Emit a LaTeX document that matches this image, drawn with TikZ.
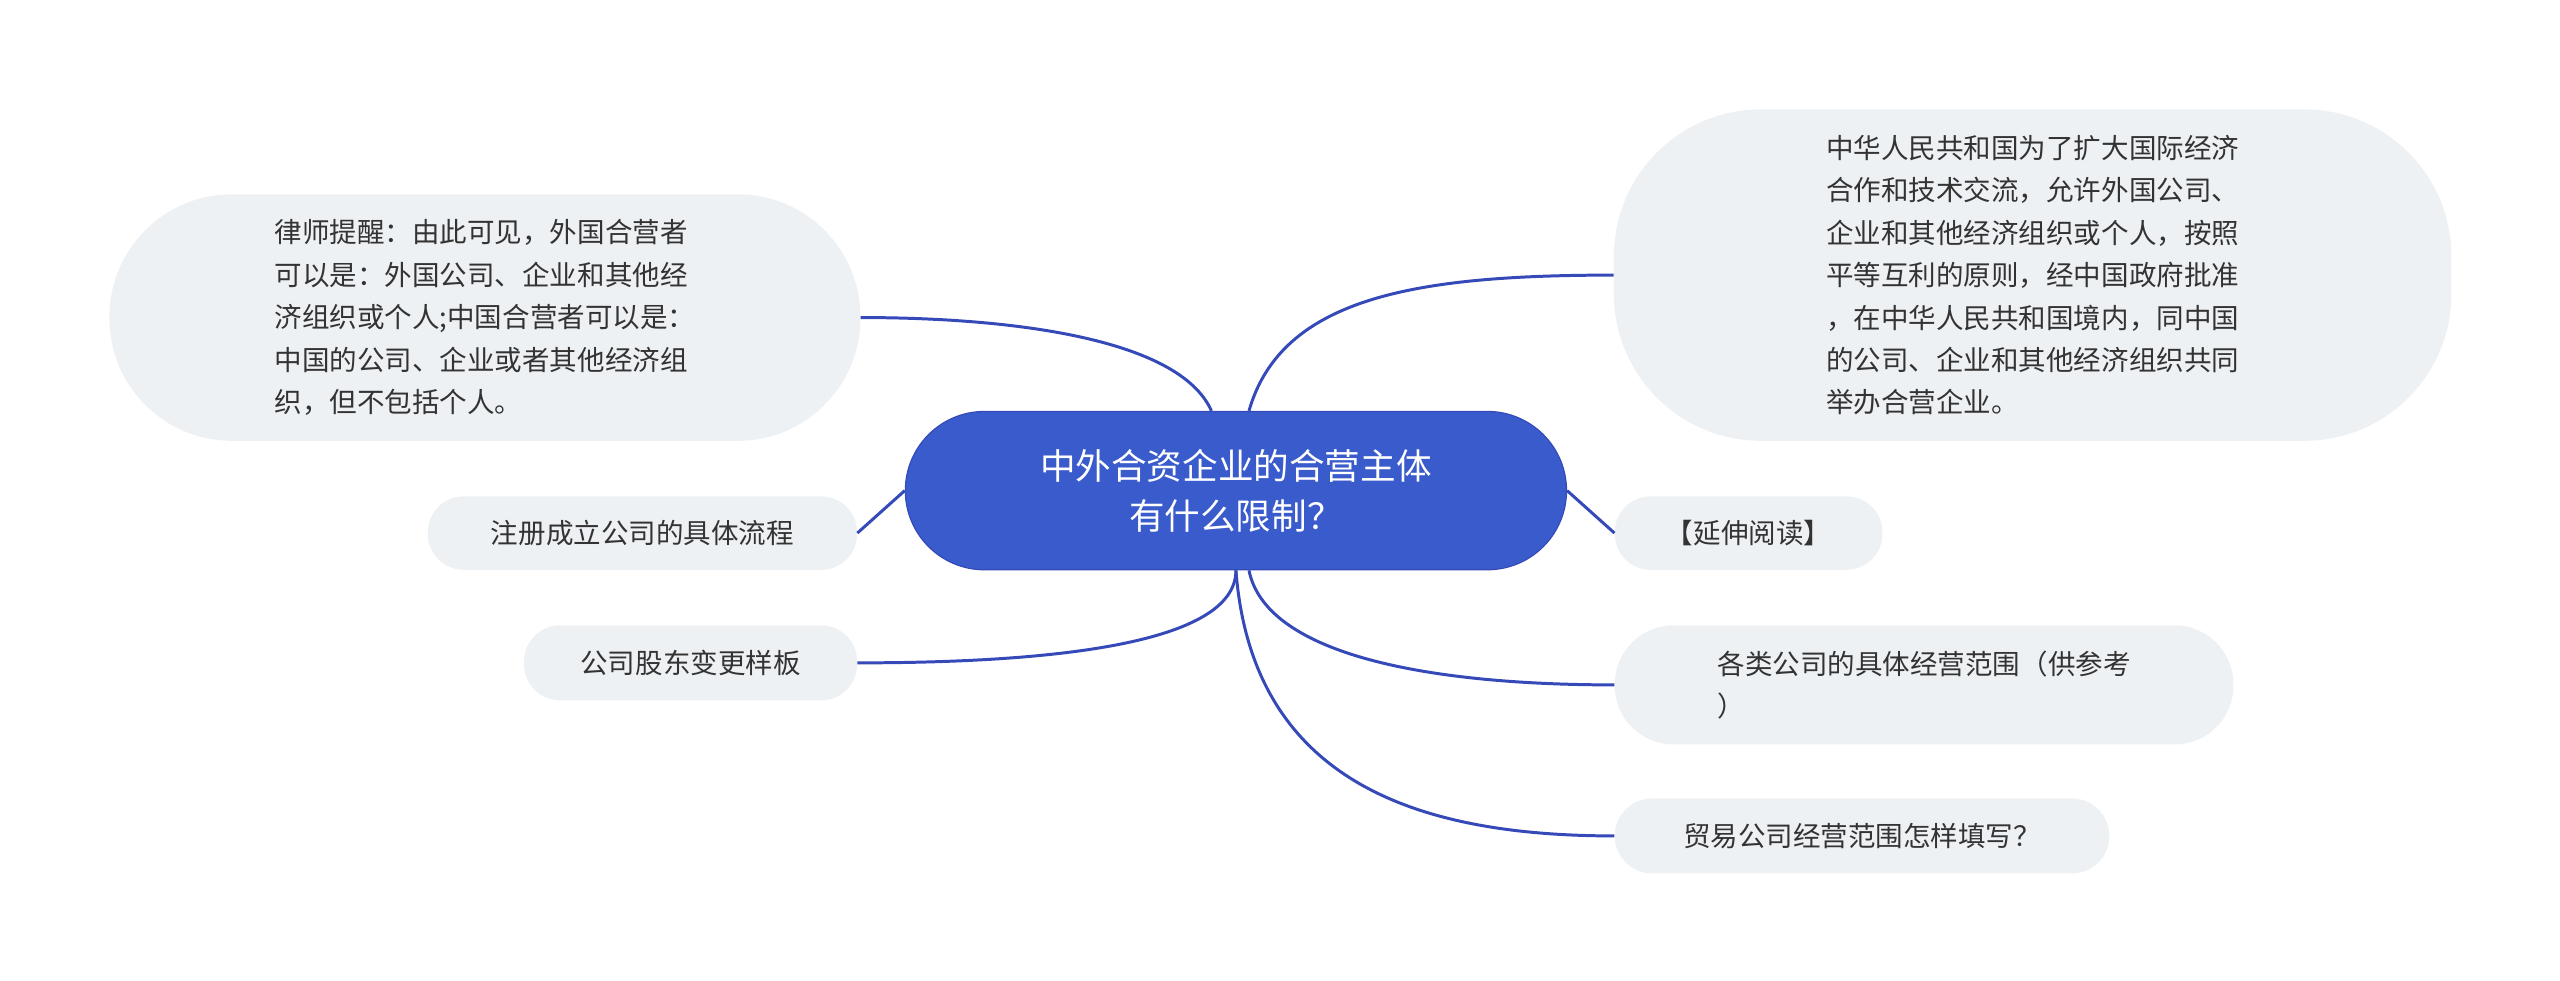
\documentclass[tikz,border=0pt]{standalone}
\usepackage{fontspec}
\setmainfont{Noto Sans CJK SC}
\usetikzlibrary{positioning}
\definecolor{mainblue}{HTML}{3A5BCB}
\definecolor{linkblue}{HTML}{3549B8}
\definecolor{leafgray}{HTML}{EEF1F4}
\definecolor{txtgray}{HTML}{333333}
\begin{document}
\begin{tikzpicture}[x=0.05cm, y=-0.05cm,
  leaf/.style={fill=leafgray, text=txtgray, font=\fontsize{24}{37}\selectfont, align=left, inner sep=0pt},
  link/.style={draw=linkblue, line width=2.6pt}]
\useasboundingbox (0,0) rectangle (1568,600.8);
% centre
\node (topic) [fill=mainblue, text=white, draw=linkblue, line width=1pt, rounded corners=48.5*0.05cm,
  minimum width=405*0.05cm, minimum height=97*0.05cm, align=center,
  font=\fontsize{31}{44}\selectfont] at (757,300.5) {中外合资企业的合营主体\\有什么限制？};
% left side
\node (tip) [leaf, rounded corners=75*0.05cm, minimum width=460*0.05cm, minimum height=151*0.05cm]
  at (297,194.5) {律师提醒：由此可见，外国合营者\\可以是：外国公司、企业和其他经\\济组织或个人;中国合营者可以是：\\中国的公司、企业或者其他经济组\\织，但不包括个人。};
\node (flow) [leaf, rounded corners=22*0.05cm, minimum width=263*0.05cm, minimum height=45*0.05cm]
  at (393.5,326.5) {注册成立公司的具体流程};
\node (share) [leaf, rounded corners=22*0.05cm, minimum width=204*0.05cm, minimum height=46*0.05cm]
  at (423,406) {公司股东变更样板};
% right side
\node (law) [leaf, rounded corners=90*0.05cm, minimum width=513*0.05cm, minimum height=203*0.05cm]
  at (1245,168.5) {中华人民共和国为了扩大国际经济\\合作和技术交流，允许外国公司、\\企业和其他经济组织或个人，按照\\平等互利的原则，经中国政府批准\\，在中华人民共和国境内，同中国\\的公司、企业和其他经济组织共同\\举办合营企业。};
\node (more) [leaf, rounded corners=22*0.05cm, minimum width=164*0.05cm, minimum height=45*0.05cm]
  at (1071,326.5) {【延伸阅读】};
\node (scope) [leaf, rounded corners=36*0.05cm, minimum width=379*0.05cm, minimum height=73*0.05cm]
  at (1178.5,419.5) {各类公司的具体经营范围（供参考\\）\hspace{7.2em}};
\node (trade) [leaf, rounded corners=23*0.05cm, minimum width=303*0.05cm, minimum height=46*0.05cm]
  at (1140.5,512) {贸易公司经营范围怎样填写？};
% connectors
\draw[link] (topic.north) ++(-15,0) .. controls +(-20,-45) and +(90,0) .. (tip.east);
\draw[link] (topic.west) -- (flow.east);
\draw[link] (topic.south) .. controls +(0,45) and +(120,0) .. (share.east);
\draw[link] (topic.north) ++(8,0) .. controls +(20,-70) and +(-120,0) .. (law.west);
\draw[link] (topic.east) -- (more.west);
\draw[link] (topic.south) ++(8,0) .. controls +(10,50) and +(-120,0) .. (scope.west);
\draw[link] (topic.south) .. controls +(10,130) and +(-120,0) .. (trade.west);
\end{tikzpicture}
\end{document}
